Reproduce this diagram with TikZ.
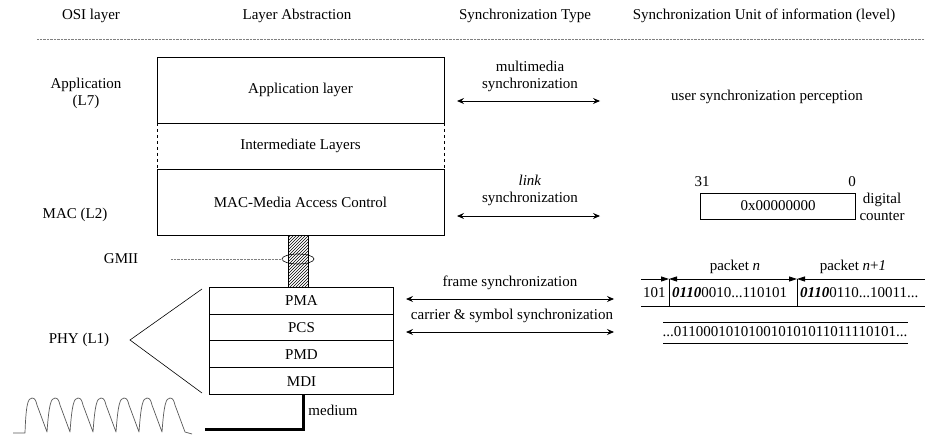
\documentclass[tikz,border=0pt]{standalone}
\usepackage{fontspec}
\setmainfont{Liberation Serif}
\usetikzlibrary{arrows.meta,patterns,shapes.geometric}

\begin{document}
\begin{tikzpicture}[x=1pt,y=-1pt,
  every node/.style={inner sep=0pt, font=\fontsize{15}{17}\selectfont},
  layerbox/.style={draw, line width=0.8pt, minimum width=287pt, minimum height=66pt},
  phybox/.style={minimum width=183pt, minimum height=26.5pt, anchor=north},
  syncarrow/.style={line width=0.9pt,
    {Stealth[length=7pt,width=6pt,inset=2.5pt]}-{Stealth[length=7pt,width=6pt,inset=2.5pt]}},
  fineline/.style={line width=0.8pt},
  dotrule/.style={line width=0.6pt, gray, dash pattern=on 0.7pt off 0.7pt},
  dimtip/.style={line width=0.8pt},
  wave/.style={line width=0.7pt, gray!70!black, line join=round}
]
\useasboundingbox (0,0) rectangle (925,436);

% column headings and rule
\node (hosi)  at (91,16)  {OSI layer};
\node (habs)  at (297,16) {Layer Abstraction};
\node (htype) at (525,16) {Synchronization Type};
\node (hunit) at (764,16) {Synchronization Unit of information (level)};
\coordinate (ruleL) at (37,39);
\coordinate (ruleR) at (925,39);
\draw[dotrule] (ruleL) -- (ruleR);

% OSI layer names
\node[align=center] (l7) at (86,93) {Application\\(L7)};
\node (l2)   at (75,215)  {MAC (L2)};
\node (gmii) at (121,259) {GMII};
\node (l1)   at (79,340)  {PHY (L1)};

% layer stack
\node[layerbox] (app) at (300.5,90) {Application layer};
\node[minimum width=287pt, minimum height=46pt] (inter) at (300.5,146) {Intermediate Layers};
\draw[line width=0.6pt, dashed] (inter.north west) -- (inter.south west);
\draw[line width=0.6pt, dashed] (inter.north east) -- (inter.south east);
\node[layerbox] (mac) at (300.5,202) {MAC-Media Access Control};

% GMII interface bar
\node[draw, line width=0.8pt, pattern=north east lines, minimum width=20pt, minimum height=52pt] (bar) at (298,261) {};
\node[draw, ellipse, line width=0.6pt, minimum width=32pt, minimum height=10pt] (ring) at (298,259) {};
\coordinate (gmiiline) at (171,259);
\draw[dotrule] (gmiiline) -- (ring.west);

% physical sublayers
\node[phybox] (pma) at (301.5,287) {PMA};
\node[phybox] (pcs) at (pma.south) {PCS};
\node[phybox] (pmd) at (pcs.south) {PMD};
\node[phybox] (mdi) at (pmd.south) {MDI};
\draw[fineline] (pma.north west) rectangle (mdi.south east);
\draw[fineline] (pma.south west) -- (pma.south east);
\draw[fineline] (pcs.south west) -- (pcs.south east);
\draw[fineline] (pmd.south west) -- (pmd.south east);

% expansion wedge
\coordinate (apex) at (130,340);
\coordinate (wedgeT) at (202,289);
\coordinate (wedgeB) at (202,393);
\draw[line width=0.6pt] (wedgeT) -- (apex) -- (wedgeB);

% medium
\coordinate (medBend) at (303,429);
\coordinate (medEnd) at (205,429);
\draw[line width=3pt] (mdi.south -| medBend) -- (medBend) -- (medEnd);
\node (medium) at (333,410) {medium};

% signal on the medium
\draw[wave] (13,433) -- (25,433)
  \foreach \s in {25,48,71,94,117,140,163} {
    .. controls (\s+1,404) and (\s+3,398) .. (\s+7,398)
    .. controls (\s+10,398) and (\s+11,401) .. (\s+12,405)
    -- (\s+22,432)
  } -- (192,434);

% synchronization types
\coordinate (mmL) at (457,101);
\coordinate (mmR) at (600,101);
\draw[syncarrow] (mmL) -- (mmR);
\node[align=center] (mmlab) at (530,76) {multimedia\\synchronization};

\coordinate (lkL) at (457,216);
\coordinate (lkR) at (600,216);
\draw[syncarrow] (lkL) -- (lkR);
\node[align=center] (lklab) at (530,190) {\textit{link}\\synchronization};

\coordinate (frL) at (406,299);
\coordinate (frR) at (614,299);
\draw[syncarrow] (frL) -- (frR);
\node (frlab) at (510,283) {frame synchronization};

\coordinate (csL) at (406,332);
\coordinate (csR) at (614,332);
\draw[syncarrow] (csL) -- (csR);
\node (cslab) at (512,316) {carrier \& symbol synchronization};

% units of information
\node (user) at (767,97) {user synchronization perception};

\node (b31) at (702,182) {31};
\node (b0)  at (852,182) {0};
\node[draw, line width=0.8pt, minimum width=155pt, minimum height=26pt] (counter) at (778,206) {0x00000000};
\node[align=center] (dc) at (882,207) {digital\\counter};

% packet framing
\coordinate (pL) at (641,279);
\coordinate (d1) at (669,279);
\coordinate (d2) at (797,279);
\coordinate (pR) at (925,279);
\coordinate (qL) at (641,306);
\coordinate (qR) at (925,306);
\draw[dimtip, -{Triangle[length=8pt,width=5pt]}] (pL) -- (d1);
\draw[dimtip, {Triangle[length=8pt,width=5pt]}-{Triangle[length=8pt,width=5pt]}] (d1) -- (d2);
\draw[dimtip, {Triangle[length=8pt,width=5pt]}-] (d2) -- (pR);
\draw[fineline] (qL) -- (qR);
\draw[fineline] (d1) -- (d1 |- qL);
\draw[fineline] (d2) -- (d2 |- qL);
\node (pn)  at (735,267) {packet \textit{n}};
\node (pn1) at (853,267) {packet \textit{n}+\textit{1}};
\node[anchor=west] (b101) at (643,293) {101};
\node[anchor=west] (pk1)  at (672,293) {\textbf{\textit{0110}}0010...110101};
\node[anchor=west] (pk2)  at (800,293) {\textbf{\textit{0110}}0110...10011...};

% raw bit stream
\coordinate (sTL) at (663,322);
\coordinate (sTR) at (908,322);
\coordinate (sBL) at (663,343);
\coordinate (sBR) at (908,343);
\draw[fineline] (sTL) -- (sTR);
\draw[fineline] (sBL) -- (sBR);
\node (stream) at (785,332) {...011000101010010101011011110101...};
\end{tikzpicture}
\end{document}
